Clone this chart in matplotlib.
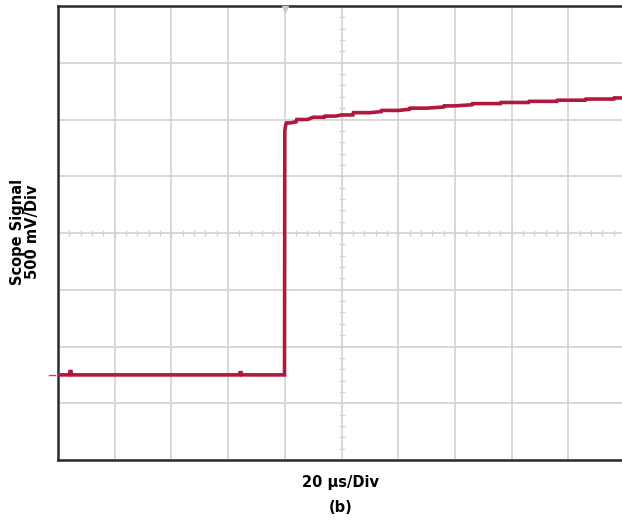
import numpy as np
import matplotlib
import matplotlib.pyplot as plt

matplotlib.use('Agg')
plt.rcParams['font.family'] = ['DejaVu Sans']

# scope settings
US_PER_DIV = 20.0   # time base
V_PER_DIV = 0.5     # vertical scale
N_XDIV = 10
N_YDIV = 8
TRIG_US = 80.0      # trigger position (4th division)
CENTER_V = 0.0      # voltage at screen centre

# captured trace: time in us, voltage in V relative to screen centre
trace_t = [0.0, 4.0, 4.2, 4.6, 4.8, 60.0, 64.0, 64.2, 64.6, 64.8, 79.9,
           80.0, 80.3, 80.6, 82.0, 84.0, 84.2, 88.0, 90.0, 94.0, 94.2,
           98.0, 100.0, 104.0, 104.2, 110.0, 114.0, 114.2, 120.0, 124.0,
           124.2, 130.0, 136.0, 136.2, 140.0, 146.0, 146.2, 152.0, 156.0,
           156.2, 160.0, 166.0, 166.2, 172.0, 176.0, 176.2, 180.0, 186.0,
           186.2, 192.0, 196.0, 196.2, 200.0]
trace_v = [-1.25, -1.25, -1.22, -1.22, -1.25, -1.25, -1.25, -1.23, -1.23,
           -1.25, -1.25, 0.90, 0.95, 0.97, 0.97, 0.98, 1.00, 1.00, 1.02,
           1.02, 1.03, 1.03, 1.04, 1.04, 1.06, 1.06, 1.07, 1.08, 1.08,
           1.09, 1.10, 1.10, 1.11, 1.12, 1.12, 1.13, 1.14, 1.14, 1.14,
           1.15, 1.15, 1.15, 1.16, 1.16, 1.16, 1.17, 1.17, 1.17, 1.18,
           1.18, 1.18, 1.19, 1.19]

# channel ground / offset marker on the left edge
marker_v = -1.25

trace_color = '#B01840'
grid_color = '#d2d2d2'
frame_color = '#2b2b2b'

fig = plt.figure(figsize=(6.22, 5.23), dpi=100)
# axes runs slightly past the right edge of the figure, as on the scope capture
ax = fig.add_axes([58 / 622, 63 / 523, 567 / 622, 454 / 523])

t_min = TRIG_US - 4 * US_PER_DIV
t_max = t_min + N_XDIV * US_PER_DIV
v_min = CENTER_V - N_YDIV / 2 * V_PER_DIV
v_max = CENTER_V + N_YDIV / 2 * V_PER_DIV
ax.set_xlim(t_min, t_max)
ax.set_ylim(v_min, v_max)

# graticule
ax.set_xticks(np.arange(t_min, t_max + 1e-9, US_PER_DIV))
ax.set_yticks(np.arange(v_min, v_max + 1e-9, V_PER_DIV))
ax.grid(True, color=grid_color, lw=1.2)
ax.tick_params(length=0, labelbottom=False, labelleft=False)

# fine ticks along the centre lines
t_center = t_min + N_XDIV / 2 * US_PER_DIV
xs = np.arange(t_min, t_max + 1e-9, US_PER_DIV / 5)
ys = np.arange(v_min, v_max + 1e-9, V_PER_DIV / 5)
ax.plot(xs, np.full(len(xs), CENTER_V), ls='none', marker='|', ms=5,
        mew=1.0, color=grid_color, zorder=1)
ax.plot(np.full(len(ys), t_center), ys, ls='none', marker='_', ms=5,
        mew=1.0, color=grid_color, zorder=1)

for side in ['left', 'top', 'bottom']:
    ax.spines[side].set_color(frame_color)
    ax.spines[side].set_linewidth(1.8)
ax.spines['right'].set_visible(False)

ax.plot(trace_t, trace_v, color=trace_color, lw=2.6, zorder=3,
        solid_joinstyle='miter')

# trigger marker at the top and channel marker on the left
ax.plot([TRIG_US], [v_max - 0.03], marker='v', ms=4, color='#c8c8c8',
        clip_on=False, zorder=4)
ax.plot([t_min - 3.0, t_min - 1.2], [marker_v, marker_v], color=trace_color,
        lw=1.0, clip_on=False, alpha=0.8)

fig.text(25 / 622, 1 - 232 / 523, 'Scope Signal\n500 mV/Div', rotation=90,
         ha='center', va='center', fontsize=10.5, fontweight='bold',
         linespacing=1.0)
fig.text(341 / 622, 1 - 483 / 523, '20 µs/Div', ha='center', va='center',
         fontsize=10.5, fontweight='bold')
fig.text(341 / 622, 1 - 508 / 523, '(b)', ha='center', va='center',
         fontsize=10.5, fontweight='bold')

fig.savefig('out.png', dpi=100)
